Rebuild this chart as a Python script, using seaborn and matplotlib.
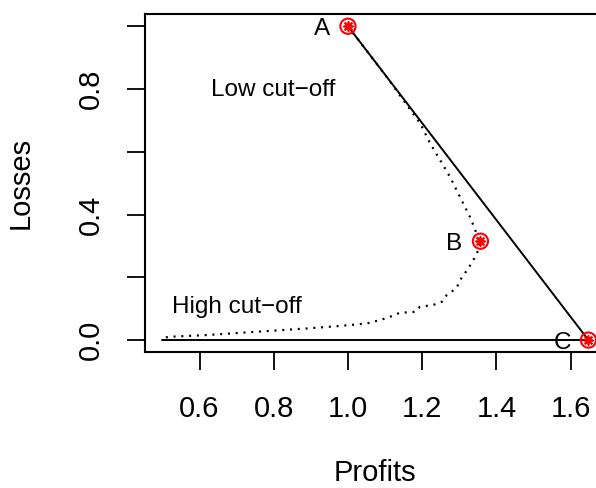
import matplotlib
matplotlib.use("Agg")
import matplotlib.pyplot as plt
import seaborn as sns
import pandas as pd

# Efficient frontier traced by moving the cut-off (profits vs losses)
frontier_profits = [1.0, 1.104, 1.162, 1.194, 1.221, 1.248, 1.275, 1.302, 1.329,
                    1.343, 1.351, 1.357, 1.3515, 1.338, 1.3245, 1.302, 1.293,
                    1.266, 1.253, 1.230, 1.194, 1.181, 1.140, 1.113, 1.087,
                    1.051, 0.979, 0.889, 0.799, 0.709, 0.619, 0.529, 0.502]
frontier_losses = [1.0, 0.839, 0.744, 0.692, 0.628, 0.574, 0.520, 0.456, 0.392,
                   0.351, 0.319, 0.315, 0.287, 0.255, 0.229, 0.191, 0.166,
                   0.143, 0.122, 0.112, 0.106, 0.090, 0.087, 0.074, 0.064,
                   0.053, 0.045, 0.037, 0.030, 0.023, 0.016, 0.011, 0.008]

# Reference strategies
point_names = ["A", "B", "C"]
point_profits = [1.0, 1.357, 1.648]
point_losses = [1.0, 0.315, 0.0]

# Straight reference lines: A -> C and the zero-loss baseline
line_ac_profits = [1.0, 1.648]
line_ac_losses = [1.0, 0.0]
base_profits = [0.5, 1.648]
base_losses = [0.0, 0.0]

x_ticks = [0.6, 0.8, 1.0, 1.2, 1.4, 1.6]
y_ticks = [0.0, 0.2, 0.4, 0.6, 0.8, 1.0]
y_tick_labels = ["0.0", "", "0.4", "", "0.8", ""]

sns.set_style("ticks")
plt.rcParams["font.family"] = ["Liberation Sans", "DejaVu Sans"]
for key in ["text.color", "axes.labelcolor", "xtick.color", "ytick.color",
            "axes.edgecolor"]:
    plt.rcParams[key] = "black"

fig = plt.figure(figsize=(5.96, 4.88), dpi=100)
ax = fig.add_axes([145 / 596, 136 / 488, 459 / 596, 338 / 488])

frontier = pd.DataFrame({"Profits": frontier_profits, "Losses": frontier_losses})
sns.lineplot(data=frontier, x="Profits", y="Losses", sort=False, estimator=None,
             ax=ax, color="black", lw=1.6, linestyle=(0, (0.9, 2.6)))
sns.lineplot(x=line_ac_profits, y=line_ac_losses, sort=False, estimator=None,
             ax=ax, color="black", lw=1.4)
sns.lineplot(x=base_profits, y=base_losses, sort=False, estimator=None,
             ax=ax, color="black", lw=1.4)

pts = pd.DataFrame({"Profits": point_profits, "Losses": point_losses})
sns.scatterplot(data=pts, x="Profits", y="Losses", ax=ax, s=120,
                facecolor="none", edgecolor="#FF0000", linewidth=1.5, zorder=5)
sns.scatterplot(data=pts, x="Profits", y="Losses", ax=ax, s=42,
                marker=(8, 2, 0), color="#FF0000", linewidth=1.3, zorder=6)

for name, px, py in zip(point_names, point_profits, point_losses):
    ax.annotate(name, (px, py), xytext=(-26, -3), textcoords="offset pixels",
                ha="center", va="center", fontsize=17.5)

ax.text(0.798, 0.797, "Low cut\u2212off", ha="center", va="center", fontsize=17.5)
ax.text(0.70, 0.105, "High cut\u2212off", ha="center", va="center", fontsize=17.5)

ax.set_xlim(0.4531, 1.690)
ax.set_ylim(-0.038, 1.039)
ax.set_xticks(x_ticks)
ax.set_xticklabels([f"{v:.1f}" for v in x_ticks])
ax.set_yticks(y_ticks)
ax.set_yticklabels(y_tick_labels, rotation=90, va="center")
ax.tick_params(axis="both", length=13, width=1.3, labelsize=21, color="black")
ax.tick_params(axis="x", pad=18)
ax.tick_params(axis="y", pad=16)

for side in ["left", "right", "top", "bottom"]:
    ax.spines[side].set_visible(True)
    ax.spines[side].set_linewidth(1.5)
    ax.spines[side].set_color("black")

ax.set_xlabel("Profits", fontsize=21, labelpad=26)
ax.set_ylabel("Losses", fontsize=21, labelpad=30)

fig.savefig("out.png", dpi=100)
